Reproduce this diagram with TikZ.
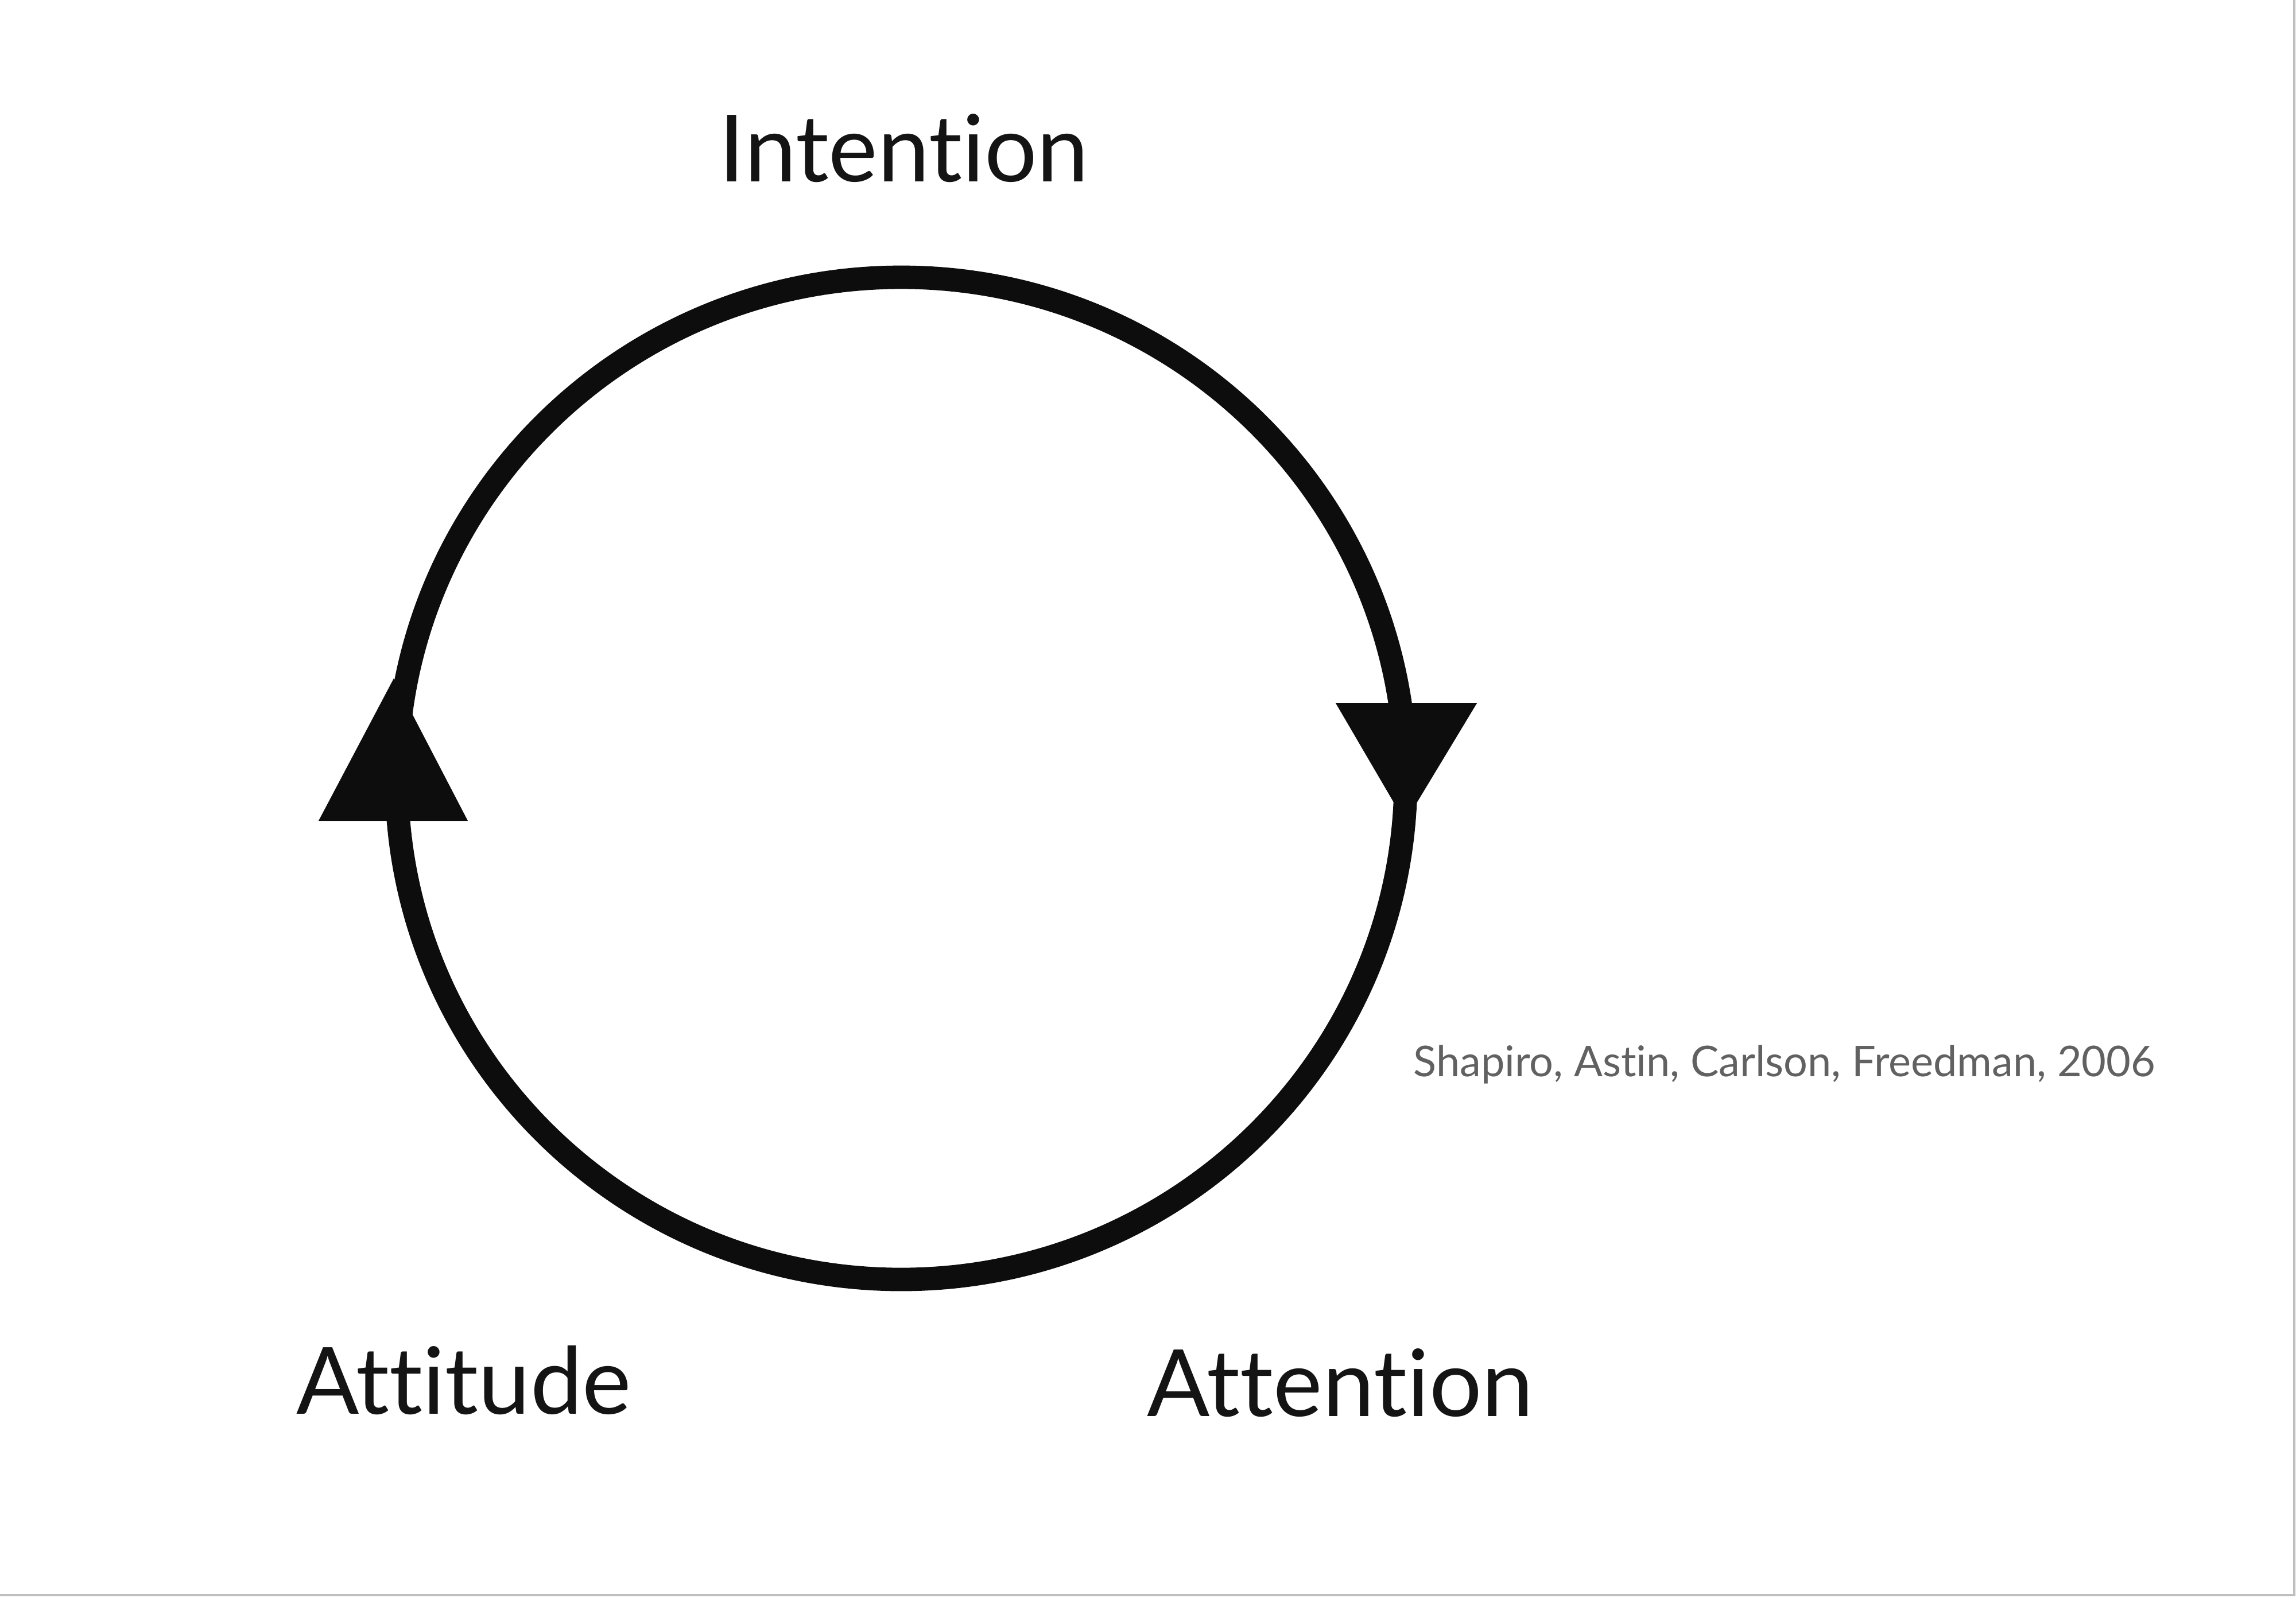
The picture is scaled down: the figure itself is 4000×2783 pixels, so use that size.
\documentclass[tikz,border=0pt]{standalone}
\usepackage{fontspec}
\setmainfont{Lato}[Ligatures={NoCommon,NoRare}]
\begin{document}
\begin{tikzpicture}[x=0.01cm,y=-0.01cm,
  label/.style={anchor=base,inner sep=0pt,font=\fontsize{46}{50}\selectfont,text=black!92},
  cite/.style={anchor=base,inner sep=0pt,font=\fontsize{21}{24}\selectfont,text=black!62},
  ring/.style={line width=11.6pt,draw=black!95},
  tip/.style={fill=black!95}]
\useasboundingbox (0,0) rectangle (4000,2783);
\fill[white] (0,0) rectangle (4000,2783);
\draw[black!25,line width=1.2pt] (3997,0) -- (3997,2779) -- (0,2779);
% cycle
\coordinate (c) at (1570,1356);
\draw[ring] (c) ellipse [x radius=879, y radius=873];
% arrowheads
\coordinate (la) at (686,1182);
\coordinate (ra) at (2448,1432);
\fill[tip] (la) -- (815,1430) -- (555,1430) -- cycle;
\fill[tip] (ra) -- (2327,1225) -- (2573,1225) -- cycle;
% labels
\node[label] (intention) at (1575,316) {Intention};
\node[label] (attitude) at (808,2463) {Attitude};
\node[label] (attention) at (2335,2467) {Attention};
\node[cite] (source) at (3109,1875) {Shapiro, Astin, Carlson, Freedman, 2006};
\end{tikzpicture}
\end{document}
